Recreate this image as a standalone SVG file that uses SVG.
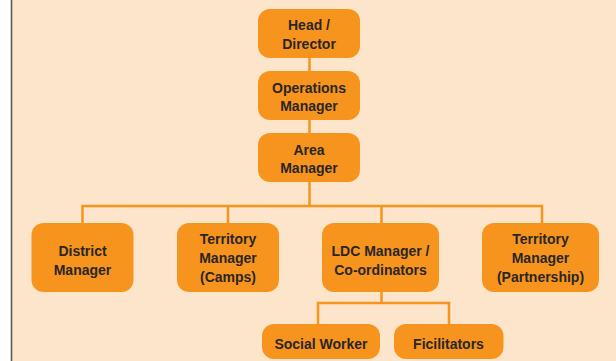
<svg xmlns="http://www.w3.org/2000/svg" width="616" height="361" viewBox="0 0 616 361">
<style>
.bg{fill:#FDE5CB}
.box{fill:#F7941E}
.t{font-family:"Liberation Sans",Arial,sans-serif;font-weight:bold;font-size:14px;fill:#2A2626;text-anchor:middle}
.c{fill:none;stroke:#F7941E;stroke-width:2.5}
</style>
<rect x="0" y="0" width="616" height="361" fill="#FFFFFF"/>
<rect class="bg" x="11" y="0" width="605" height="361"/>
<line x1="11.5" y1="0" x2="11.5" y2="361" stroke="#5A5A5A" stroke-width="1.6"/>
<g id="connectors">
<path class="c" d="M309.5 58V71M309.5 120V133M309.5 182V206M82.5 223V206H542V223M228 206V223M381.5 206V223"/>
<path class="c" d="M381.5 292V303M318 324V303H449V324"/>
</g>
<g id="head"><rect class="box" x="258" y="9" width="102" height="49" rx="12"/><text class="t" x="309" y="30">Head /</text><text class="t" x="309" y="48.5">Director</text></g>
<g id="operations"><rect class="box" x="258" y="71" width="102" height="49" rx="12"/><text class="t" x="309" y="92.5">Operations</text><text class="t" x="309" y="111">Manager</text></g>
<g id="area"><rect class="box" x="258" y="133" width="102" height="49" rx="12"/><text class="t" x="309" y="154.5">Area</text><text class="t" x="309" y="173">Manager</text></g>
<g id="district"><rect class="box" x="31.5" y="223" width="102" height="69" rx="12"/><text class="t" x="82.5" y="256">District</text><text class="t" x="82.5" y="274.5">Manager</text></g>
<g id="camps"><rect class="box" x="177" y="223" width="102" height="69" rx="12"/><text class="t" x="228" y="243.5">Territory</text><text class="t" x="228" y="262.5">Manager</text><text class="t" x="228" y="282">(Camps)</text></g>
<g id="ldc"><rect class="box" x="322" y="223" width="117" height="69" rx="12"/><text class="t" x="380.5" y="256">LDC Manager /</text><text class="t" x="380.5" y="274.5">Co-ordinators</text></g>
<g id="partnership"><rect class="box" x="482" y="223" width="117" height="69" rx="12"/><text class="t" x="540.5" y="243.5">Territory</text><text class="t" x="540.5" y="262.5">Manager</text><text class="t" x="540.5" y="282">(Partnership)</text></g>
<g id="social"><rect class="box" x="262" y="324" width="118" height="35" rx="12"/><text class="t" x="321" y="348.5">Social Worker</text></g>
<g id="facilitators"><rect class="box" x="394" y="324" width="109.5" height="35" rx="12"/><text class="t" x="448.5" y="348.5">Ficilitators</text></g>
</svg>
